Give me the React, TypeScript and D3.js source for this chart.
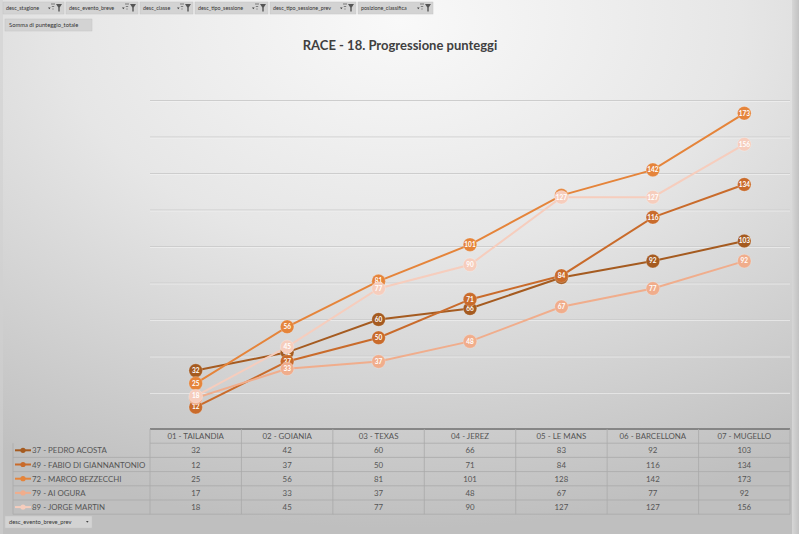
import * as d3 from 'd3';

// Riders' cumulative points per round
const categories = [
  '01 - TAILANDIA',
  '02 - GOIANIA',
  '03 - TEXAS',
  '04 - JEREZ',
  '05 - LE MANS',
  '06 - BARCELLONA',
  '07 - MUGELLO',
];
const riders = [
  '37 - PEDRO ACOSTA',
  '49 - FABIO DI GIANNANTONIO',
  '72 - MARCO BEZZECCHI',
  '79 - AI OGURA',
  '89 - JORGE MARTIN',
];
const acosta = [32, 42, 60, 66, 83, 92, 103];
const diGiannantonio = [12, 37, 50, 71, 84, 116, 134];
const bezzecchi = [25, 56, 81, 101, 128, 142, 173];
const ogura = [17, 33, 37, 48, 67, 77, 92];
const martin = [18, 45, 77, 90, 127, 127, 156];

const filterFields = [
  'desc_stagione',
  'desc_evento_breve',
  'desc_classe',
  'desc_tipo_sessione',
  'desc_tipo_sessione_prev',
  'posizione_classifica',
];
const filterWidths = [61, 72, 53, 73, 86, 75];

const seriesValues = [acosta, diGiannantonio, bezzecchi, ogura, martin];
const seriesColors = ['#a55b20', '#c96b2b', '#e5843a', '#f0ad8c', '#f6cdbd'];

const W = 799;
const H = 534;
const plot = { left: 150, right: 790, top: 64, bottom: 429 };
const legendLeft = 13;
const rowH = 14.2;
const FONT = 'Lato, "Open Sans", sans-serif';

function Funnel({ x, y }: { x: number; y: number }) {
  return (
    <g transform={`translate(${x},${y})`}>
      <path d="M-4,-4 L0,-4 M-3.2,-1.5 L-0.8,-1.5 M-2.6,1 L-1.4,1" stroke="#666" strokeWidth={0.8} />
      <path d="M1,-4 L7,-4 L4.7,-0.5 L4.7,3.5 L3.3,3.5 L3.3,-0.5 Z" fill="#555" />
    </g>
  );
}

export default function App() {
  const x = d3.scaleBand<string>().domain(categories).range([plot.left, plot.right]);
  const y = d3.scaleLinear().domain([0, 200]).range([plot.bottom, plot.top]);
  const gridTicks = y.ticks(10).filter((t) => t > 0 && t < 200);
  const cx = (c: string) => (x(c) ?? 0) + x.bandwidth() / 2;

  const line = d3
    .line<number>()
    .x((_, i) => cx(categories[i]))
    .y((v) => y(v));

  let fx = 3;
  const filterPos = filterWidths.map((w) => {
    const p = fx;
    fx += w + 2;
    return p;
  });

  const tableTop = plot.bottom;
  const tableBottom = tableTop + rowH * (riders.length + 1);

  return (
    <div style={{ position: 'absolute', left: 0, top: 0, width: W, height: H }}>
      <svg width={W} height={H} style={{ display: 'block' }} fontFamily={FONT}>
        <defs>
          <radialGradient id="bg" cx="50%" cy="4%" r="95%" fx="50%" fy="4%">
            <stop offset="0%" stopColor="#f9f9f9" />
            <stop offset="45%" stopColor="#e6e6e6" />
            <stop offset="100%" stopColor="#bfbfbf" />
          </radialGradient>
          <linearGradient id="edge" x1="0" x2="1" y1="0" y2="0">
            <stop offset="0%" stopColor="#d6d6d6" />
            <stop offset="100%" stopColor="#c2c2c2" />
          </linearGradient>
        </defs>
        <rect width={W} height={H} fill="url(#bg)" />
        <rect x={792} y={0} width={7} height={H} fill="url(#edge)" />
        <rect x={0} y={0} width={3} height={H} fill="#d0d0d0" opacity={0.6} />

        {/* pivot filter buttons */}
        {filterFields.map((f, i) => (
          <g key={f}>
            <rect x={filterPos[i]} y={2} width={filterWidths[i]} height={12} fill="#d3d3d3" stroke="#c4c4c4" strokeWidth={0.5} />
            <text x={filterPos[i] + 3} y={10.2} fontSize={5.4} fill="#333">
              {f}
            </text>
            <path
              d={`M${filterPos[i] + filterWidths[i] - 16},7.5 l2.6,0 l-1.3,1.8 z`}
              fill="#444"
            />
            <Funnel x={filterPos[i] + filterWidths[i] - 9} y={8} />
          </g>
        ))}
        <rect x={5} y={19} width={87} height={12} fill="#d3d3d3" stroke="#c4c4c4" strokeWidth={0.5} />
        <text x={9} y={27.3} fontSize={5.8} fill="#333">
          Somma di punteggio_totale
        </text>

        <text x={400} y={50} textAnchor="middle" fontSize={13} fontWeight={700} fill="#404040">
          RACE - 18. Progressione punteggi
        </text>

        {/* gridlines */}
        {gridTicks.map((t) => (
          <g key={t}>
            <line x1={plot.left} x2={plot.right} y1={y(t)} y2={y(t)} stroke="#cdcdcd" strokeWidth={1.1} />
            <line x1={plot.left} x2={plot.right} y1={y(t) + 1} y2={y(t) + 1} stroke="#f4f4f4" strokeWidth={0.6} />
          </g>
        ))}

        {/* series lines */}
        {seriesValues.map((vals, s) => (
          <path key={riders[s]} d={line(vals) ?? ''} fill="none" stroke={seriesColors[s]} strokeWidth={2} />
        ))}

        {/* markers with value labels */}
        {seriesValues.map((vals, s) => (
          <g key={`m-${riders[s]}`}>
            {vals.map((v, i) => (
              <g key={i} transform={`translate(${cx(categories[i])},${y(v)})`}>
                <circle r={6.8} fill={seriesColors[s]} stroke="#ffffff" strokeOpacity={0.35} strokeWidth={0.6} />
                <text y={2.3} textAnchor="middle" fontSize={6.5} fontWeight={700} fill="#ffffff">
                  {v}
                </text>
              </g>
            ))}
          </g>
        ))}

        {/* data table */}
        <g fontSize={7.9} fill="#555">
          <line x1={plot.left} x2={plot.right} y1={tableTop} y2={tableTop} stroke="#6f6f6f" strokeWidth={1.5} />
          {d3.range(riders.length + 1).map((r) => (
            <line
              key={`h-${r}`}
              x1={r === 0 ? plot.left : legendLeft}
              x2={plot.right}
              y1={tableTop + rowH * (r + 1)}
              y2={tableTop + rowH * (r + 1)}
              stroke="#a9a9a9"
              strokeWidth={0.8}
            />
          ))}
          <line x1={legendLeft} x2={legendLeft} y1={tableTop + rowH} y2={tableBottom} stroke="#a9a9a9" strokeWidth={0.8} />
          {categories.map((c) => (
            <line
              key={`v-${c}`}
              x1={x(c)}
              x2={x(c)}
              y1={tableTop}
              y2={tableBottom}
              stroke="#a9a9a9"
              strokeWidth={0.8}
            />
          ))}
          <line x1={plot.right} x2={plot.right} y1={tableTop} y2={tableBottom} stroke="#a9a9a9" strokeWidth={0.8} />
          {categories.map((c) => (
            <text key={`c-${c}`} x={cx(c)} y={tableTop + rowH / 2 + 3} textAnchor="middle">
              {c}
            </text>
          ))}
          {riders.map((r, s) => {
            const ry = tableTop + rowH * (s + 1) + rowH / 2;
            return (
              <g key={`r-${r}`}>
                <line x1={15} x2={31} y1={ry} y2={ry} stroke={seriesColors[s]} strokeWidth={2} />
                <circle cx={23} cy={ry} r={2.6} fill={seriesColors[s]} />
                <text x={32} y={ry + 3}>
                  {r}
                </text>
                {seriesValues[s].map((v, i) => (
                  <text key={i} x={cx(categories[i])} y={ry + 3} textAnchor="middle">
                    {v}
                  </text>
                ))}
              </g>
            );
          })}
        </g>

        <rect x={5} y={516} width={87} height={12} fill="#d3d3d3" stroke="#c4c4c4" strokeWidth={0.5} />
        <text x={9} y={524.3} fontSize={5.8} fill="#333">
          desc_evento_breve_prev
        </text>
        <path d="M86,521 l2.6,0 l-1.3,1.8 z" fill="#444" />
      </svg>
    </div>
  );
}
